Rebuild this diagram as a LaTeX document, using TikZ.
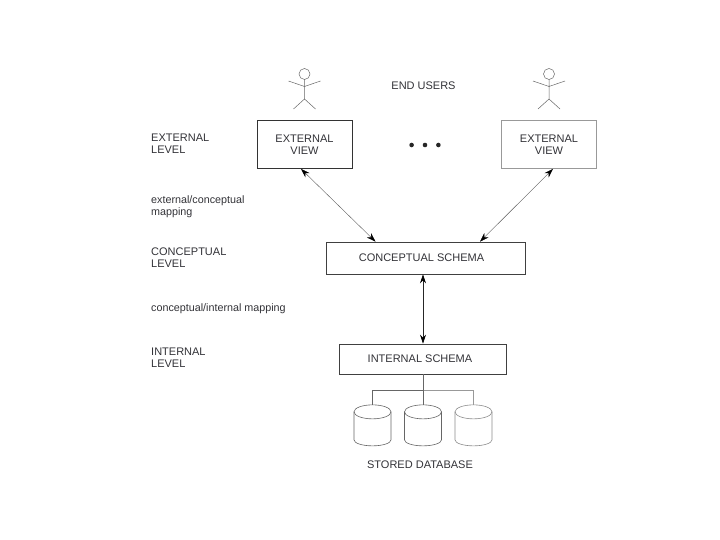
\documentclass[tikz,border=0pt]{standalone}
\usepackage{fontspec}
\setmainfont{Liberation Sans}
\usetikzlibrary{positioning, arrows.meta}
\definecolor{inkgray}{RGB}{50, 50, 55}
\newcommand{\drawdisk}[2]{
    \draw[#2, line width=0.6pt] ([yshift=-7pt]#1.north) ellipse [x radius=18.5, y radius=7];
    \draw[#2, line width=0.6pt] ([yshift=-7pt]#1.north west) -- ([yshift=6pt]#1.south west) arc [start angle=180, end angle=0, x radius=18.5, y radius=6] -- ([yshift=-7pt]#1.north east);
}
\tikzset{
    view box/.style={rectangle, draw=#1, line width=0.8pt, minimum width=95pt, minimum height=48pt, align=center, font=\fontsize{11}{12}\selectfont, text=inkgray},
    schema box/.style={rectangle, draw=black!75, line width=0.7pt, minimum height=#1, align=center, font=\fontsize{11}{12}\selectfont, text=inkgray},
    level label/.style={anchor=west, align=left, inner sep=0pt, font=\fontsize{11}{12}\selectfont, text=inkgray},
    map label/.style={anchor=west, align=left, inner sep=0pt, font=\fontsize{10.75}{12}\selectfont, text=inkgray},
    plain label/.style={inner sep=0pt, font=\fontsize{11}{12}\selectfont, text=inkgray},
    disk/.style={rectangle, inner sep=0pt, outer sep=0pt, minimum width=37pt, minimum height=41pt},
    dot/.style={circle, fill=black!85, inner sep=0pt, minimum size=4.6pt},
    link/.style={{Stealth[length=9pt,width=6pt,black]}-{Stealth[length=9pt,width=6pt,black]}, black!65, line width=0.4pt},
    stick user/.pic={
        \draw[black!60, line width=0.5pt] (0,-5.5) circle (5.5);
        \draw[black!60, line width=0.5pt] (0,0) -- (0,19.5) (-16,1.5) -- (0,7) -- (16,1.5) (-11,29.5) -- (0,19.5) -- (11,29.5);
    },
}
\begin{document}
\begin{tikzpicture}[x=1pt, y=-1pt]
\useasboundingbox (0,0) rectangle (720,540);
\node[view box=black!80] (viewleft) at (304.5,144.5) {EXTERNAL\\VIEW};
\node[view box=black!40] (viewright) at (549,144.5) {EXTERNAL\\VIEW};
\node[schema box=32pt, minimum width=199pt] (concept) at (425.5,258) {CONCEPTUAL SCHEMA\hspace*{8pt}};
\node[schema box=30pt, minimum width=167pt] (internal) at (423,359) {INTERNAL SCHEMA\hspace*{6pt}};
\node[disk, below=30.5pt of internal] (dbtwo) {};
\node[disk, left=13.5pt of dbtwo] (dbone) {};
\node[disk, right=13.5pt of dbtwo] (dbthree) {};
\coordinate (bus) at (423,390);
\node[plain label] (users) at (423.5,86) {END USERS};
\node[plain label] (stored) at (420,464.5) {STORED DATABASE};
\node[dot] (dotb) at (425,145) {};
\node[dot, left=8.4pt of dotb] (dota) {};
\node[dot, right=8.4pt of dotb] (dotc) {};
\node[level label] (lvlext) at (151,144) {EXTERNAL\\LEVEL};
\node[map label] (mapext) at (151,206.5) {external/conceptual\\mapping};
\node[level label] (lvlcon) at (151,258) {CONCEPTUAL\\LEVEL};
\node[map label] (mapint) at (151,308.5) {conceptual/internal mapping};
\node[level label] (lvlint) at (151,358) {INTERNAL\\LEVEL};
\pic at (304.5,79.5) {stick user};
\pic at (549,79.5) {stick user};
\drawdisk{dbone}{black!60}
\drawdisk{dbtwo}{black!60}
\drawdisk{dbthree}{black!45}
\draw[link] ([xshift=-3.5pt]viewleft.south) -- ([xshift=-50pt]concept.north);
\draw[link] ([xshift=4pt]viewright.south) -- ([xshift=54.5pt]concept.north);
\draw[link, black!85, line width=0.7pt] ([xshift=-2.5pt]concept.south) -- (internal.north);
\draw[black!60, line width=0.5pt] (internal.south) -- (bus);
\draw[black!60, line width=0.5pt] (dbone.north) |- (bus);
\draw[black!40, line width=0.5pt] (dbthree.north) |- (bus);
\draw[black!60, line width=0.5pt] (bus) -- (dbtwo.north);
\end{tikzpicture}
\end{document}
